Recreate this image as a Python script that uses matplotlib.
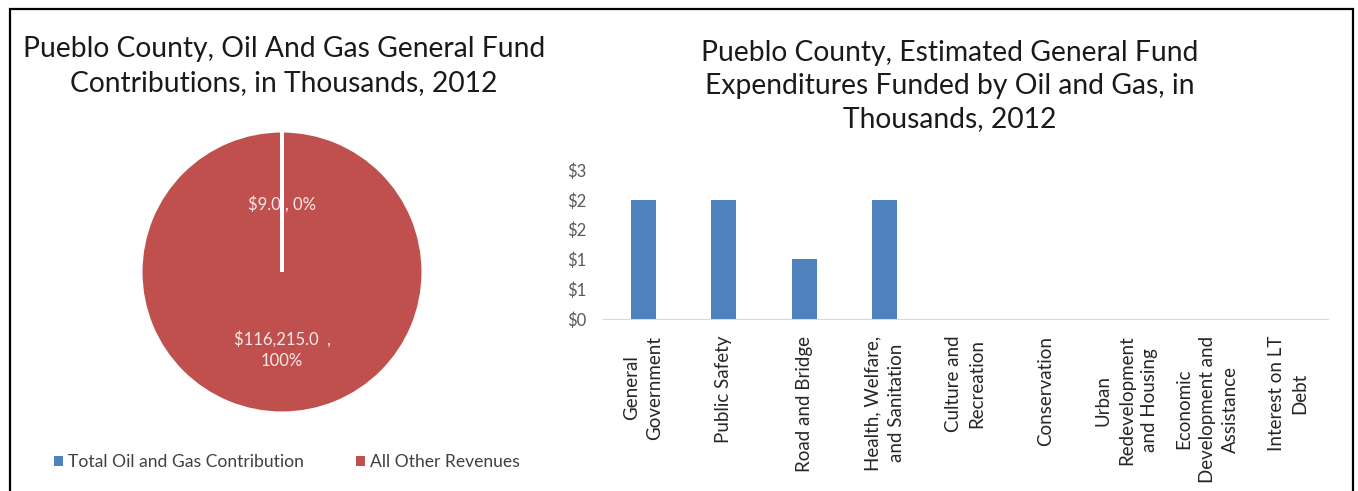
import matplotlib.pyplot as plt
from matplotlib.patches import Rectangle, Patch

plt.rcParams['font.family'] = ['Lato', 'DejaVu Sans']

# general fund revenue split, thousands of dollars
revenue_labels = ['Total Oil and Gas Contribution', 'All Other Revenues']
revenue_values = [9.0, 116215.0]
revenue_colors = ['#4F81BD', '#C0504D']

# expenditures funded by oil and gas, thousands of dollars
categories = ['General\nGovernment', 'Public Safety', 'Road and Bridge',
              'Health, Welfare,\nand Sanitation', 'Culture and\nRecreation',
              'Conservation', 'Urban\nRedevelopment\nand Housing',
              'Economic\nDevelopment and\nAssistance', 'Interest on LT\nDebt']
expenditures = [2, 2, 1, 2, 0, 0, 0, 0, 0]
y_ticks = [0, 0.5, 1.0, 1.5, 2.0, 2.5]

W, H = 1358, 491
fig = plt.figure(figsize=(W / 100, H / 100), dpi=100)


def px_axes(x0, y0, x1, y1):
    # axes from pixel box measured from the top-left corner
    return fig.add_axes([x0 / W, 1 - y1 / H, (x1 - x0) / W, (y1 - y0) / H])


# outer frame
fig.patches.append(Rectangle((10 / W, -0.1), (1353 - 10) / W, 1.1 - 9 / H,
                             transform=fig.transFigure, fill=False,
                             edgecolor='black', linewidth=1.6))

# ---- pie ----
fig.text(284 / W, 1 - 66 / H,
         'Pueblo County, Oil And Gas General Fund\nContributions, in Thousands, 2012',
         ha='center', va='center', fontsize=20.3, color='#1a1a1a', linespacing=1.35)

ax1 = px_axes(141, 131, 423, 413)
wedges, _ = ax1.pie(revenue_values, colors=revenue_colors, startangle=90,
                    counterclock=False,
                    wedgeprops=dict(edgecolor='white', linewidth=2.2))
ax1.set_xlim(-1, 1)
ax1.set_ylim(-1, 1)
ax1.set_aspect('equal')

total = sum(revenue_values)
ax1.text(0, 0.48, f'${revenue_values[0]:,.1f} , {revenue_values[0] / total:.0%}',
         ha='center', va='center', fontsize=12, color='#f7e9e9')
ax1.text(0, -0.55, f'${revenue_values[1]:,.1f}  ,\n{revenue_values[1] / total:.0%}',
         ha='center', va='center', fontsize=12, color='#f7e9e9', linespacing=1.4)

handles = [Patch(facecolor=c, edgecolor='none') for c in revenue_colors]
fig.legend(handles, revenue_labels, loc='center', ncol=2,
           bbox_to_anchor=(287 / W, 1 - 462 / H), frameon=False,
           fontsize=12.6, labelcolor='#404040', handlelength=0.5,
           handleheight=0.5, handletextpad=0.3, columnspacing=3.0)

# ---- bars ----
fig.text(950 / W, 1 - 86 / H,
         'Pueblo County, Estimated General Fund\nExpenditures Funded by Oil and Gas, in\nThousands, 2012',
         ha='center', va='center', fontsize=20.3, color='#1a1a1a', linespacing=1.35)

ax2 = px_axes(603, 170, 1328, 319)
x = range(len(categories))
ax2.bar(x, expenditures, width=0.31, color='#4F81BD')
ax2.set_xlim(-0.5, len(categories) - 0.5)
ax2.set_ylim(0, 2.5)
ax2.set_yticks(y_ticks)
# whole-dollar labels, halves rounded up
ax2.set_yticklabels([f'${int(v + 0.5)}' for v in y_ticks])
ax2.set_xticks(list(x))
ax2.set_xticklabels(categories, rotation=90, va='top', ha='center',
                    multialignment='center', fontsize=13.5, color='#262626',
                    linespacing=1.45)
for s in ['top', 'right', 'left']:
    ax2.spines[s].set_visible(False)
ax2.spines['bottom'].set_color('#d9d9d9')
ax2.tick_params(axis='x', length=0, pad=12)
ax2.tick_params(axis='y', length=0, labelsize=12, labelcolor='#595959', pad=12)

fig.savefig('out.png', dpi=100)
